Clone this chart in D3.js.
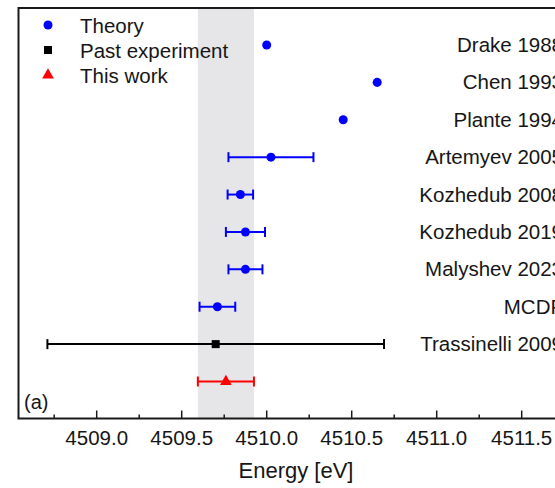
<!DOCTYPE html>
<head>
<meta charset="utf-8">
<style>
  body { margin: 0; background: #fff; }
  svg text { font-family: Arial, "Liberation Sans", sans-serif; fill: #161616; }
</style>
</head>
<body>
<svg width="555" height="488"></svg>
<script src="https://d3js.org/d3.v7.min.js"></script>
<script>
    // data
    var rows   = ["Drake 1988", "Chen 1993", "Plante 1994", "Artemyev 2005", "Kozhedub 2008",
                  "Kozhedub 2019", "Malyshev 2023", "MCDF", "Trassinelli 2009", "This work"];
    var energy = [4510.00, 4510.65, 4510.45, 4510.025, 4509.845, 4509.875, 4509.875, 4509.71, 4509.70, 4509.76];
    var err    = [0, 0, 0, 0.25, 0.075, 0.115, 0.10, 0.105, 0.99, 0.165];
    var kind   = ["theory", "theory", "theory", "theory", "theory", "theory", "theory", "theory", "past", "this"];
    var ticks  = [4509.0, 4509.5, 4510.0, 4510.5, 4511.0, 4511.5];
    var minorTicks = [4508.75, 4509.25, 4509.75, 4510.25, 4510.75, 4511.25, 4511.75];
    var legendItems = [["theory", "Theory"], ["past", "Past experiment"], ["this", "This work"]];

    var colors = {theory: "#0000ff", past: "#000000", this: "#ff0000"};

    var svg = d3.select("svg");
    var plotL = 18.5, plotR = 579.5, plotT = 8, plotB = 418.5;

    var x = d3.scaleLinear().domain([4508.54, 4511.84]).range([plotL, plotR]);
    var y = d3.scalePoint().domain(rows).range([45, 381.5]);

    var data = rows.map((r, i) => ({row: r, v: energy[i], e: err[i], kind: kind[i]}));

    //shaded band = this work +/- error
    var tw = data[data.length - 1];
    svg.append("rect")
        .attr("x", x(tw.v - tw.e))
        .attr("width", x(tw.v + tw.e) - x(tw.v - tw.e))
        .attr("y", plotT)
        .attr("height", plotB - plotT)
        .attr("fill", "#e6e6e9");

    //frame
    svg.append("rect")
        .attr("x", plotL).attr("y", plotT)
        .attr("width", plotR - plotL).attr("height", plotB - plotT)
        .attr("fill", "none").attr("stroke", "#1a1a1a").attr("stroke-width", 2);

    //ticks (inward)
    var axis = svg.append("g");
    axis.selectAll("line.major").data(ticks).enter().append("line")
        .attr("x1", d => x(d)).attr("x2", d => x(d))
        .attr("y1", plotB).attr("y2", plotB - 8)
        .attr("stroke", "#1a1a1a").attr("stroke-width", 1.5);
    axis.selectAll("line.minor").data(minorTicks).enter().append("line")
        .attr("x1", d => x(d)).attr("x2", d => x(d))
        .attr("y1", plotB).attr("y2", plotB - 4)
        .attr("stroke", "#1a1a1a").attr("stroke-width", 1.5);
    axis.selectAll("text").data(ticks).enter().append("text")
        .attr("x", d => x(d)).attr("y", 445)
        .attr("text-anchor", "middle")
        .attr("font-size", 20.5)
        .text(d => d.toFixed(1));

    svg.append("text")
        .attr("x", 296).attr("y", 478)
        .attr("text-anchor", "middle")
        .attr("font-size", 22)
        .text("Energy [eV]");

    svg.append("text")
        .attr("x", 24).attr("y", 409)
        .attr("font-size", 20)
        .text("(a)");

    //error bars
    var eb = svg.append("g").selectAll("g").data(data.filter(d => d.e > 0)).enter().append("g")
        .attr("stroke", d => colors[d.kind]).attr("stroke-width", 2);
    eb.append("line")
        .attr("x1", d => x(d.v - d.e)).attr("x2", d => x(d.v + d.e))
        .attr("y1", d => y(d.row)).attr("y2", d => y(d.row));
    eb.append("line")
        .attr("x1", d => x(d.v - d.e)).attr("x2", d => x(d.v - d.e))
        .attr("y1", d => y(d.row) - 5).attr("y2", d => y(d.row) + 5);
    eb.append("line")
        .attr("x1", d => x(d.v + d.e)).attr("x2", d => x(d.v + d.e))
        .attr("y1", d => y(d.row) - 5).attr("y2", d => y(d.row) + 5);

    //markers
    var shape = {theory: d3.symbolCircle, past: d3.symbolSquare, this: d3.symbolTriangle};
    var size = {theory: 64, past: 64, this: 60};
    function marker(k) { return d3.symbol().type(shape[k]).size(size[k])(); }

    svg.append("g").selectAll("path").data(data).enter().append("path")
        .attr("transform", d => "translate(" + x(d.v) + "," + y(d.row) + ")")
        .attr("d", d => marker(d.kind))
        .attr("fill", d => colors[d.kind]);

    //row labels, right side (run past the edge, as in the source figure)
    svg.append("g").selectAll("text").data(data.filter(d => d.kind != "this")).enter().append("text")
        .attr("x", 563)
        .attr("y", d => y(d.row) + 7)
        .attr("text-anchor", "end")
        .attr("font-size", 20.5)
        .text(d => d.row);

    //legend
    var lg = svg.append("g").selectAll("g").data(legendItems).enter().append("g")
        .attr("transform", (d, i) => "translate(48," + (25 + i * 25) + ")");
    lg.append("path")
        .attr("d", d => marker(d[0]))
        .attr("fill", d => colors[d[0]]);
    lg.append("text")
        .attr("x", 32).attr("y", 7.5)
        .attr("font-size", 20.5)
        .text(d => d[1]);
</script>
</body>
